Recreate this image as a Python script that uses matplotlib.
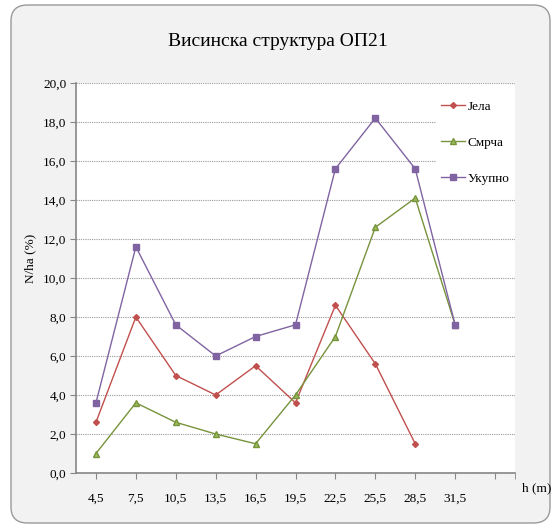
import matplotlib
matplotlib.use('Agg')
import matplotlib.pyplot as plt
import numpy as np
from matplotlib.patches import FancyBboxPatch

plt.rcParams['font.family'] = ['Liberation Serif', 'DejaVu Serif']

heights = ['4,5', '7,5', '10,5', '13,5', '16,5', '19,5', '22,5', '25,5', '28,5', '31,5', '']
jela = [2.6, 8.0, 5.0, 4.0, 5.5, 3.6, 8.6, 5.6, 1.5, np.nan]
smrca = [1.0, 3.6, 2.6, 2.0, 1.5, 4.0, 7.0, 12.6, 14.1, 7.6]
ukupno = [3.6, 11.6, 7.6, 6.0, 7.0, 7.6, 15.6, 18.2, 15.6, 7.6]
y_ticks = np.arange(0, 21, 2)

fig = plt.figure(figsize=(5.56, 5.28), dpi=100)
fig.patch.set_facecolor('white')

# rounded grey frame round the whole chart
frame = FancyBboxPatch((11 / 556, 5 / 528), 539 / 556, 518 / 528,
                       boxstyle='round,pad=0,rounding_size=0.03',
                       transform=fig.transFigure, facecolor='#f2f2f2',
                       edgecolor='#9a9a9a', linewidth=1.0, zorder=-5)
fig.patches.append(frame)

ax = fig.add_axes([76 / 556, 1 - 473 / 528, 439 / 556, 390 / 528])
ax.set_zorder(2)
ax.set_facecolor('white')

x = np.arange(len(jela))
ax.plot(x, jela, '-D', color='#c0504d', lw=1.0, ms=3, label='Јела', zorder=3)
ax.plot(x, smrca, '-^', color='#77933c', mfc='#9bbb59', mec='#77933c', lw=1.0, ms=4, label='Смрча', zorder=3)
ax.plot(x, ukupno, '-s', color='#8064a2', lw=1.0, ms=4, label='Укупно', zorder=3)

ax.set_xlim(-0.5, 10.5)
ax.set_ylim(0, 20)
ax.set_xticks(np.arange(len(heights)))
ax.set_xticklabels(heights, fontsize=9.5)
ax.set_xticks([10.5], minor=True)
ax.set_yticks(y_ticks)
ax.set_yticklabels([f'{v:.1f}'.replace('.', ',') for v in y_ticks], fontsize=9.5)

ax.tick_params(axis='x', which='both', direction='out', length=4, color='#868686', pad=10)
ax.tick_params(axis='y', direction='out', length=4, color='#868686', pad=3)
for s in ['top', 'right']:
    ax.spines[s].set_visible(False)
for s in ['left', 'bottom']:
    ax.spines[s].set_color('#868686')
    ax.spines[s].set_linewidth(1.2)

ax.yaxis.grid(True, linestyle=(0, (1, 1)), color='#9a9a9a', linewidth=0.8)
ax.set_axisbelow(True)

# legend box hides the grid but sits under the data lines
leg = ax.legend(loc='upper right', bbox_to_anchor=(1.0, 0.968), frameon=True,
                fancybox=False, edgecolor='none', facecolor='white', framealpha=1,
                fontsize=9.5, handlelength=1.8, labelspacing=1.8, borderpad=0.4,
                borderaxespad=0.0, handletextpad=0.2)
leg.set_zorder(2.5)

fig.text(0.5, 1 - 42 / 528, 'Висинска структура ОП21', ha='center', va='center', fontsize=14)
fig.text(30 / 556, 1 - 258 / 528, 'N/ha (%)', rotation=90, ha='center', va='center', fontsize=9.5)
fig.text(537 / 556, 1 - 488 / 528, 'h (m)', ha='center', va='center', fontsize=9.5)

fig.savefig('out.png', dpi=100)
